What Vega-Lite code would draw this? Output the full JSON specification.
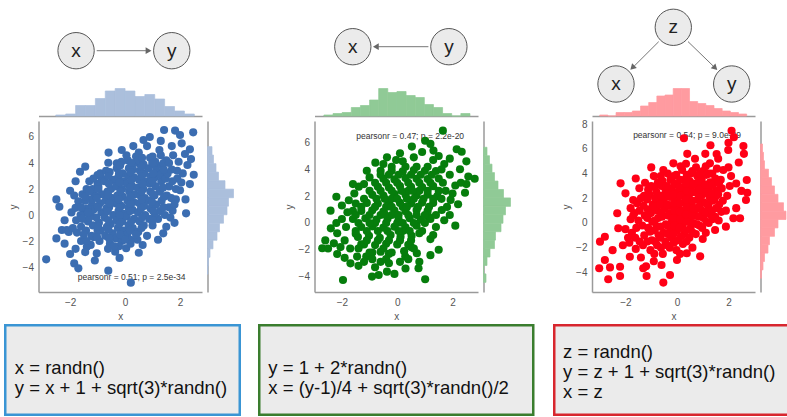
{
"$schema": "https://vega.github.io/schema/vega-lite/v6.json",
"width": 787,
"height": 417,
"autosize": {"type": "none"},
"padding": 0,
"background": "white",
"config": {
  "view": {"stroke": null},
  "font": "Liberation Sans",
  "axis": {"grid": false, "ticks": false, "tickSize": 0, "labelColor": "#555", "labelFontSize": 10, "labelFont": "Liberation Sans", "titleColor": "#555", "titleFontSize": 10, "titleFont": "Liberation Sans", "titleFontWeight": "normal", "domainColor": "#9a9a9a", "domainWidth": 1.5, "labelPadding": 5, "titlePadding": 4}
},
"resolve": {"scale": {"x": "independent", "y": "independent"}, "axis": {"x": "independent", "y": "independent"}},
"datasets": {
"p1": [
{"x":-2.87,"y":-3.41},{"x":-1.85,"y":-3.72},{"x":-1.7,"y":-4.1},{"x":-0.61,"y":-4.28},{"x":0.21,"y":-5.2},{"x":-2.39,"y":0.64},{"x":-2.0,"y":1.87},{"x":-2.3,"y":-1.15},{"x":-1.64,"y":3.33},{"x":-1.45,"y":3.72},{"x":-0.12,"y":5.0},{"x":0.67,"y":5.77},{"x":1.42,"y":6.54},{"x":1.82,"y":6.49},{"x":2.48,"y":6.36},{"x":2.0,"y":6.15},{"x":2.06,"y":5.51},{"x":2.36,"y":5.05},{"x":2.18,"y":4.69},{"x":2.27,"y":3.85},{"x":2.36,"y":2.38},{"x":2.22,"y":0.13},{"x":1.73,"y":0.33},{"x":1.39,"y":-1.41},{"x":0.64,"y":-2.31},{"x":0.04,"y":-2.56},{"x":-0.36,"y":-2.82},{"x":-1.03,"y":-2.95},{"x":-1.39,"y":-2.44},{"x":-2.12,"y":-1.15},{"x":-1.0,"y":3.08},{"x":-0.61,"y":4.02},{"x":-0.3,"y":3.98},
{"x":-2.05,"y":-1.3},{"x":-1.9,"y":-1.0},{"x":-1.75,"y":-1.35},{"x":-1.6,"y":-0.9},{"x":-1.95,"y":0.2},{"x":-1.8,"y":0.55},{"x":-1.7,"y":1.05},{"x":-1.55,"y":1.6},{"x":-1.85,"y":1.5},{"x":-1.4,"y":2.0},{"x":-1.5,"y":0.2},{"x":-1.35,"y":-0.5},{"x":-1.6,"y":-2.0},{"x":-1.8,"y":-2.6},{"x":-1.45,"y":-2.85},{"x":-1.25,"y":-2.3},{"x":-1.15,"y":-1.7},{"x":-1.0,"y":-1.2},{"x":-1.2,"y":0.8},{"x":-1.1,"y":1.5},{"x":-1.0,"y":2.4},{"x":-0.85,"y":2.8},{"x":-1.3,"y":2.6},
{"x":1.0,"y":4.5},{"x":1.25,"y":5.0},{"x":0.8,"y":5.3},{"x":1.5,"y":4.2},{"x":1.7,"y":3.5},{"x":1.9,"y":2.8},{"x":2.0,"y":1.9},{"x":1.85,"y":1.2},{"x":1.6,"y":0.6},{"x":1.2,"y":-0.3},{"x":1.0,"y":-0.8},{"x":0.8,"y":-1.6},{"x":0.45,"y":-1.9},{"x":0.2,"y":-2.2},{"x":1.5,"y":-0.9},{"x":0.4,"y":4.5},{"x":0.1,"y":4.2},{"x":0.55,"y":3.9},{"x":1.1,"y":3.8},{"x":1.6,"y":2.2},{"x":2.1,"y":3.2},{"x":1.95,"y":4.1},{"x":2.4,"y":4.3},{"x":1.3,"y":5.7},{"x":0.9,"y":6.0},
{"x":-1.22,"y":-1.6},{"x":-1.17,"y":-0.8},{"x":-1.25,"y":0.0},{"x":-1.15,"y":0.4},{"x":-1.21,"y":1.2},{"x":-1.18,"y":2.0},
{"x":-0.93,"y":-2.0},{"x":-0.88,"y":-1.2},{"x":-0.95,"y":-0.6},{"x":-0.86,"y":0.2},{"x":-0.91,"y":0.9},{"x":-0.84,"y":1.6},{"x":-0.97,"y":2.2},{"x":-0.9,"y":3.2},
{"x":-0.72,"y":-1.6},{"x":-0.66,"y":-0.9},{"x":-0.74,"y":-0.2},{"x":-0.68,"y":0.5},{"x":-0.71,"y":1.1},{"x":-0.64,"y":1.8},{"x":-0.75,"y":2.6},{"x":-0.69,"y":3.4},
{"x":-0.55,"y":-2.2},{"x":-0.45,"y":-1.4},{"x":-0.52,"y":-0.7},{"x":-0.43,"y":0.0},{"x":-0.58,"y":0.6},{"x":-0.47,"y":1.3},{"x":-0.51,"y":2.0},{"x":-0.44,"y":2.7},{"x":-0.56,"y":3.3},
{"x":-0.33,"y":-1.8},{"x":-0.26,"y":-1.0},{"x":-0.31,"y":-0.4},{"x":-0.24,"y":0.3},{"x":-0.35,"y":0.9},{"x":-0.28,"y":1.5},{"x":-0.32,"y":2.2},{"x":-0.25,"y":2.9},{"x":-0.3,"y":3.6},
{"x":-0.12,"y":-2.0},{"x":-0.06,"y":-1.2},{"x":-0.1,"y":-0.5},{"x":-0.04,"y":0.1},{"x":-0.14,"y":0.7},{"x":-0.08,"y":1.4},{"x":-0.11,"y":2.0},{"x":-0.05,"y":2.6},{"x":-0.09,"y":3.2},{"x":-0.13,"y":4.1},
{"x":0.08,"y":-1.5},{"x":0.13,"y":-0.8},{"x":0.06,"y":-0.1},{"x":0.12,"y":0.6},{"x":0.09,"y":1.1},{"x":0.15,"y":1.8},{"x":0.07,"y":2.4},{"x":0.11,"y":3.0},{"x":0.14,"y":3.6},{"x":0.05,"y":4.6},
{"x":0.28,"y":-1.0},{"x":0.33,"y":-0.3},{"x":0.27,"y":0.4},{"x":0.31,"y":1.0},{"x":0.35,"y":1.6},{"x":0.26,"y":2.2},{"x":0.32,"y":2.9},{"x":0.29,"y":3.5},{"x":0.34,"y":4.0},
{"x":0.48,"y":-1.3},{"x":0.53,"y":-0.5},{"x":0.47,"y":0.2},{"x":0.52,"y":0.9},{"x":0.55,"y":1.5},{"x":0.46,"y":2.1},{"x":0.51,"y":2.7},{"x":0.54,"y":3.4},{"x":0.49,"y":4.2},{"x":0.5,"y":4.8},
{"x":0.68,"y":-0.8},{"x":0.73,"y":0.0},{"x":0.69,"y":0.7},{"x":0.72,"y":1.3},{"x":0.66,"y":2.0},{"x":0.74,"y":2.6},{"x":0.7,"y":3.2},{"x":0.67,"y":3.9},
{"x":0.88,"y":-0.3},{"x":0.93,"y":0.5},{"x":0.87,"y":1.1},{"x":0.92,"y":1.8},{"x":0.89,"y":2.4},{"x":0.94,"y":3.0},{"x":0.86,"y":3.6},{"x":0.91,"y":4.4},
{"x":1.08,"y":0.1},{"x":1.13,"y":0.8},{"x":1.07,"y":1.5},{"x":1.12,"y":2.2},{"x":1.09,"y":2.9},{"x":1.14,"y":3.4},{"x":1.1,"y":4.1},
{"x":1.28,"y":0.3},{"x":1.33,"y":1.1},{"x":1.27,"y":1.8},{"x":1.32,"y":2.6},{"x":1.29,"y":3.1},{"x":1.34,"y":3.8},{"x":1.3,"y":4.6},
{"x":-1.42,"y":-1.2},{"x":-1.38,"y":0.5},{"x":-1.45,"y":1.1},{"x":1.52,"y":1.5},{"x":1.48,"y":2.8},{"x":1.55,"y":3.2},{"x":1.45,"y":0.0},{"x":1.68,"y":1.3},{"x":1.72,"y":2.6},{"x":1.75,"y":4.6},{"x":-1.62,"y":0.0},{"x":-1.78,"y":-0.4},{"x":-2.2,"y":-0.4},
{"x":-1.02,"y":-1.7},{"x":-0.98,"y":-0.9},{"x":-1.04,"y":-0.2},{"x":-0.99,"y":0.6},{"x":-1.03,"y":1.3},{"x":-0.97,"y":2.0},
{"x":-0.62,"y":-2.6},{"x":-0.58,"y":-1.8},{"x":-0.61,"y":-1.1},{"x":-0.6,"y":-0.4},{"x":-0.63,"y":0.3},{"x":-0.57,"y":0.9},{"x":-0.62,"y":1.6},{"x":-0.59,"y":2.4},{"x":-0.61,"y":3.0},
{"x":-0.22,"y":-2.4},{"x":-0.18,"y":-1.5},{"x":-0.21,"y":-0.7},{"x":-0.19,"y":0.0},{"x":-0.2,"y":0.6},{"x":-0.23,"y":1.2},{"x":-0.17,"y":1.8},{"x":-0.2,"y":2.5},{"x":-0.22,"y":3.2},{"x":-0.18,"y":3.8},
{"x":0.2,"y":-1.9},{"x":0.18,"y":-1.2},{"x":0.22,"y":-0.5},{"x":0.19,"y":0.3},{"x":0.21,"y":0.9},{"x":0.2,"y":1.4},{"x":0.18,"y":2.1},{"x":0.23,"y":2.7},{"x":0.2,"y":3.3},{"x":0.22,"y":4.0},
{"x":0.6,"y":-1.0},{"x":0.62,"y":-0.2},{"x":0.58,"y":0.5},{"x":0.61,"y":1.2},{"x":0.6,"y":1.8},{"x":0.63,"y":2.4},{"x":0.59,"y":3.0},{"x":0.6,"y":3.7},{"x":0.62,"y":4.4},
{"x":1.0,"y":-0.4},{"x":1.02,"y":0.3},{"x":0.98,"y":1.0},{"x":1.01,"y":1.6},{"x":1.0,"y":2.6},{"x":1.03,"y":3.2},{"x":0.99,"y":4.0},
{"x":1.4,"y":0.6},{"x":1.42,"y":1.4},{"x":1.38,"y":2.1},{"x":1.41,"y":3.5},{"x":1.4,"y":4.0},
{"x":-1.4,"y":-2.0},{"x":-1.5,"y":-1.5},{"x":-1.55,"y":-0.3},{"x":-1.3,"y":-0.2},{"x":-1.35,"y":0.2},{"x":-1.6,"y":0.6},{"x":-1.45,"y":1.4},{"x":-1.3,"y":1.8},{"x":-1.15,"y":2.8},
{"x":1.65,"y":-0.2},{"x":1.8,"y":0.8},{"x":1.85,"y":2.0},{"x":1.9,"y":3.4},{"x":2.05,"y":2.5},{"x":1.6,"y":4.0},{"x":0.4,"y":-1.5},{"x":0.0,"y":-1.9},{"x":-0.4,"y":-2.4},
{"x":-2.5,"y":-1.8},{"x":-2.2,"y":-2.2},{"x":-2.0,"y":-3.0},{"x":-1.1,"y":-3.5},{"x":-0.2,"y":-3.3},{"x":0.5,"y":-2.9},{"x":1.2,"y":-1.9},{"x":1.8,"y":-0.6},{"x":2.2,"y":1.2},{"x":2.5,"y":3.1},{"x":-2.5,"y":1.2},{"x":-1.8,"y":2.6},{"x":-0.6,"y":4.8},{"x":0.3,"y":5.3},{"x":1.7,"y":5.3}
],
"p2": [
{"x":1.65,"y":6.89},{"x":1.01,"y":6.14},{"x":0.53,"y":5.7},{"x":2.15,"y":5.5},{"x":2.33,"y":5.32},{"x":1.31,"y":5.4},{"x":-0.37,"y":4.9},{"x":-0.04,"y":4.7},{"x":-0.79,"y":4.5},{"x":2.27,"y":4.01},{"x":2.57,"y":3.46},{"x":2.45,"y":2.26},{"x":1.93,"y":1.72},{"x":1.61,"y":0.97},{"x":1.13,"y":0.47},{"x":0.8,"y":-0.77},{"x":0.71,"y":-2.26},{"x":0.77,"y":-3.38},{"x":1.01,"y":-4.2},{"x":0.29,"y":-2.51},{"x":-0.37,"y":-3.63},{"x":-0.67,"y":-3.88},{"x":-0.91,"y":-4.0},{"x":-1.96,"y":-4.25},{"x":-1.69,"y":-3.01},{"x":-2.17,"y":-2.31},{"x":-2.71,"y":-1.89},{"x":-2.41,"y":0.92},{"x":-2.2,"y":1.96},{"x":-1.39,"y":2.71},{"x":-2.17,"y":-0.77},{"x":-2.29,"y":-1.52},{"x":-1.12,"y":-2.51},{"x":-1.45,"y":-2.51},
{"x":-2.0,"y":0.3},{"x":-1.85,"y":-0.3},{"x":-1.9,"y":-1.3},{"x":-2.05,"y":-1.8},{"x":-1.7,"y":-1.9},{"x":-1.6,"y":0.9},{"x":-1.75,"y":1.7},{"x":-1.55,"y":2.2},{"x":-1.2,"y":2.9},{"x":-1.0,"y":3.4},{"x":-0.6,"y":3.9},{"x":-0.2,"y":4.2},{"x":0.2,"y":4.6},{"x":0.6,"y":4.9},{"x":1.3,"y":4.7},{"x":1.7,"y":4.4},{"x":1.9,"y":3.6},{"x":2.1,"y":2.8},{"x":1.75,"y":2.4},{"x":2.2,"y":1.4},{"x":1.9,"y":0.6},{"x":1.4,"y":-0.3},{"x":1.2,"y":-1.2},{"x":0.5,"y":-1.8},{"x":0.1,"y":-2.9},{"x":-0.3,"y":-2.3},{"x":-0.6,"y":-2.9},{"x":-0.9,"y":-2.2},{"x":-1.3,"y":-1.6},{"x":-1.5,"y":-0.8},{"x":-2.5,"y":-1.9},{"x":1.5,"y":-2.0},{"x":-0.1,"y":-3.8},{"x":2.5,"y":2.9},
{"x":-1.42,"y":-1.05},{"x":-1.02,"y":-0.95},{"x":-0.63,"y":-1.1},{"x":-0.24,"y":-0.9},{"x":0.12,"y":-1.02},{"x":0.52,"y":-0.96},
{"x":-1.3,"y":-0.3},{"x":-0.9,"y":-0.25},{"x":-0.5,"y":-0.35},{"x":-0.1,"y":-0.28},{"x":0.3,"y":-0.32},{"x":0.7,"y":-0.2},
{"x":-1.6,"y":0.3},{"x":-1.15,"y":0.35},{"x":-0.75,"y":0.25},{"x":-0.35,"y":0.32},{"x":0.05,"y":0.28},{"x":0.45,"y":0.36},{"x":0.85,"y":0.25},{"x":1.2,"y":0.3},
{"x":-1.3,"y":0.9},{"x":-0.9,"y":0.95},{"x":-0.5,"y":0.85},{"x":-0.1,"y":0.92},{"x":0.3,"y":0.88},{"x":0.7,"y":0.96},{"x":1.1,"y":0.9},
{"x":-1.1,"y":1.5},{"x":-0.7,"y":1.45},{"x":-0.3,"y":1.55},{"x":0.1,"y":1.5},{"x":0.5,"y":1.45},{"x":0.9,"y":1.52},{"x":1.3,"y":1.5},{"x":-1.5,"y":1.45},
{"x":-0.9,"y":2.1},{"x":-0.5,"y":2.05},{"x":-0.1,"y":2.15},{"x":0.3,"y":2.1},{"x":0.7,"y":2.05},{"x":1.1,"y":2.12},{"x":1.45,"y":2.0},
{"x":-0.7,"y":2.7},{"x":-0.3,"y":2.65},{"x":0.1,"y":2.75},{"x":0.5,"y":2.7},{"x":0.9,"y":2.68},{"x":1.3,"y":2.75},
{"x":-0.5,"y":3.3},{"x":-0.1,"y":3.25},{"x":0.3,"y":3.35},{"x":0.7,"y":3.3},{"x":1.1,"y":3.28},{"x":1.5,"y":3.32},
{"x":-0.2,"y":3.9},{"x":0.2,"y":3.85},{"x":0.6,"y":3.95},{"x":1.0,"y":3.9},{"x":1.4,"y":3.88},
{"x":-1.2,"y":-1.6},{"x":-0.8,"y":-1.65},{"x":-0.4,"y":-1.55},{"x":0.0,"y":-1.6},{"x":0.4,"y":-1.62},
{"x":-1.0,"y":-2.2},{"x":-0.6,"y":-2.15},{"x":-0.2,"y":-2.2},{"x":0.25,"y":-2.1},
{"x":-0.2,"y":0.6},{"x":0.2,"y":1.2},{"x":0.6,"y":1.8},{"x":-0.6,"y":0.6},{"x":0.0,"y":0.0},{"x":0.4,"y":0.6},{"x":-0.4,"y":1.2},{"x":0.8,"y":2.4},{"x":0.4,"y":2.4},{"x":-0.2,"y":1.8},{"x":0.2,"y":-0.6},{"x":-0.8,"y":0.0},
{"x":-1.1,"y":-1.3},{"x":-0.7,"y":-1.3},{"x":-0.3,"y":-1.3},{"x":0.1,"y":-1.3},{"x":0.5,"y":-1.3},
{"x":-1.5,"y":-0.6},{"x":-1.1,"y":-0.6},{"x":-0.7,"y":-0.6},{"x":-0.35,"y":-0.6},{"x":0.05,"y":-0.6},{"x":0.45,"y":-0.6},{"x":0.9,"y":-0.6},
{"x":-1.4,"y":0.0},{"x":-1.0,"y":0.0},{"x":-0.4,"y":0.0},{"x":0.2,"y":0.0},{"x":0.6,"y":0.0},{"x":1.0,"y":0.0},
{"x":-1.5,"y":0.6},{"x":-1.0,"y":0.6},{"x":-0.45,"y":0.65},{"x":0.05,"y":0.6},{"x":0.7,"y":0.6},{"x":1.0,"y":0.6},{"x":1.4,"y":0.6},
{"x":-1.3,"y":1.2},{"x":-0.8,"y":1.2},{"x":-0.2,"y":1.2},{"x":0.35,"y":1.2},{"x":0.75,"y":1.2},{"x":1.15,"y":1.2},
{"x":-1.2,"y":1.8},{"x":-0.75,"y":1.8},{"x":-0.45,"y":1.8},{"x":0.0,"y":1.8},{"x":0.35,"y":1.8},{"x":0.95,"y":1.8},{"x":1.3,"y":1.8},{"x":1.6,"y":1.8},
{"x":-1.0,"y":2.4},{"x":-0.6,"y":2.4},{"x":-0.2,"y":2.4},{"x":0.15,"y":2.4},{"x":0.55,"y":2.4},{"x":1.1,"y":2.4},{"x":1.5,"y":2.4},
{"x":-0.8,"y":3.0},{"x":-0.4,"y":3.0},{"x":0.0,"y":3.0},{"x":0.4,"y":3.0},{"x":0.8,"y":3.0},{"x":1.2,"y":3.0},{"x":1.65,"y":3.0},
{"x":-0.6,"y":3.6},{"x":-0.3,"y":3.6},{"x":0.05,"y":3.6},{"x":0.5,"y":3.6},{"x":0.85,"y":3.6},{"x":1.25,"y":3.6},
{"x":0.3,"y":4.2},{"x":0.7,"y":4.2},{"x":1.1,"y":4.2},
{"x":-1.4,"y":-1.9},{"x":-0.5,"y":-1.9},{"x":0.6,"y":-1.9},
{"x":-0.9,"y":-2.7},{"x":-0.4,"y":-2.7},{"x":0.4,"y":-2.7},
{"x":1.6,"y":4.0},{"x":1.9,"y":4.8},{"x":2.3,"y":3.0},{"x":2.0,"y":2.2},{"x":1.8,"y":1.2},{"x":2.5,"y":4.6},{"x":1.5,"y":5.0},{"x":0.9,"y":5.3},{"x":1.2,"y":5.9},{"x":-1.8,"y":0.8},{"x":-2.2,"y":0.0},{"x":-2.6,"y":-1.3},{"x":-1.9,"y":-2.6},{"x":-1.4,"y":-3.2},{"x":-0.8,"y":-3.3},{"x":-0.3,"y":-3.0},{"x":0.3,"y":-3.4},{"x":1.3,"y":-0.9},{"x":1.7,"y":0.2},{"x":-1.1,"y":3.9},{"x":-1.6,"y":2.9},{"x":-2.0,"y":1.3},{"x":0.8,"y":-2.9},{"x":1.2,"y":-2.4},{"x":-2.4,"y":-0.4},{"x":2.8,"y":3.3},{"x":2.1,"y":-0.2},{"x":-0.5,"y":4.4},{"x":0.1,"y":5.2},{"x":-1.2,"y":-2.9}
],
"p3": [
{"x":2.12,"y":7.47},{"x":2.21,"y":6.94},{"x":2.58,"y":6.23},{"x":0.27,"y":6.86},{"x":1.99,"y":5.91},{"x":1.54,"y":5.59},{"x":2.71,"y":3.48},{"x":2.73,"y":2.45},{"x":2.68,"y":1.86},{"x":2.19,"y":0.38},{"x":2.45,"y":0.38},{"x":1.48,"y":-0.57},{"x":0.38,"y":-2.45},{"x":-0.27,"y":-4.21},{"x":-0.53,"y":-4.83},{"x":-1.18,"y":-4.29},{"x":-2.21,"y":-4.29},{"x":-2.67,"y":-4.56},{"x":-3.02,"y":-3.67},{"x":-2.8,"y":-3.0},{"x":-2.99,"y":-1.51},{"x":-2.8,"y":-1.11},{"x":-2.28,"y":-0.43},{"x":-2.32,"y":0.79},{"x":-2.19,"y":3.21},{"x":-1.7,"y":1.86},{"x":-1.46,"y":2.81},{"x":-1.24,"y":3.26},{"x":-2.21,"y":-3.54},{"x":-1.31,"y":-3.67},{"x":-1.83,"y":-2.73},{"x":-0.14,"y":4.83},{"x":-0.53,"y":4.29},{"x":1.8,"y":4.29},{"x":1.28,"y":4.83},
{"x":-2.5,"y":-2.2},{"x":-2.1,"y":-1.8},{"x":-1.9,"y":-1.2},{"x":-2.0,"y":-0.5},{"x":-1.8,"y":0.3},{"x":-1.6,"y":-2.1},{"x":-1.4,"y":-2.8},{"x":-0.9,"y":-3.1},{"x":-0.6,"y":-3.4},{"x":0.0,"y":-3.0},{"x":0.6,"y":-2.0},{"x":1.0,"y":-1.3},{"x":1.9,"y":-0.3},{"x":2.3,"y":1.2},{"x":2.5,"y":2.6},{"x":2.3,"y":3.2},{"x":2.0,"y":4.5},{"x":2.4,"y":4.9},{"x":1.6,"y":5.2},{"x":1.1,"y":5.6},{"x":0.7,"y":5.2},{"x":0.4,"y":5.6},{"x":-0.9,"y":3.8},{"x":-1.0,"y":4.5},{"x":-1.6,"y":3.6},{"x":-2.0,"y":2.4},{"x":-1.8,"y":1.2},{"x":2.6,"y":5.6},{"x":2.0,"y":6.5},{"x":1.3,"y":6.3},{"x":0.9,"y":3.0},{"x":-2.6,"y":-3.6},{"x":-1.2,"y":-3.5},{"x":0.9,"y":-2.7},
{"x":-1.32,"y":-1.8},{"x":-1.27,"y":-1.0},{"x":-1.35,"y":-0.2},{"x":-1.25,"y":0.6},{"x":-1.3,"y":1.4},{"x":-1.28,"y":2.2},
{"x":-1.03,"y":-2.2},{"x":-0.98,"y":-1.4},{"x":-1.05,"y":-0.7},{"x":-0.96,"y":0.1},{"x":-1.01,"y":0.8},{"x":-0.94,"y":1.5},{"x":-1.07,"y":2.3},{"x":-1.0,"y":3.0},
{"x":-0.77,"y":-1.8},{"x":-0.71,"y":-1.0},{"x":-0.79,"y":-0.3},{"x":-0.73,"y":0.4},{"x":-0.76,"y":1.0},{"x":-0.69,"y":1.7},{"x":-0.8,"y":2.5},{"x":-0.74,"y":3.3},
{"x":-0.55,"y":-2.5},{"x":-0.45,"y":-1.5},{"x":-0.52,"y":-0.8},{"x":-0.43,"y":-0.1},{"x":-0.58,"y":0.5},{"x":-0.47,"y":1.2},{"x":-0.51,"y":1.9},{"x":-0.44,"y":2.6},{"x":-0.56,"y":3.4},
{"x":-0.28,"y":-2.0},{"x":-0.21,"y":-1.2},{"x":-0.26,"y":-0.5},{"x":-0.19,"y":0.2},{"x":-0.3,"y":0.8},{"x":-0.23,"y":1.4},{"x":-0.27,"y":2.1},{"x":-0.2,"y":2.8},{"x":-0.25,"y":3.5},
{"x":-0.02,"y":-2.2},{"x":0.04,"y":-1.4},{"x":0.0,"y":-0.6},{"x":0.06,"y":0.0},{"x":-0.04,"y":0.6},{"x":0.02,"y":1.3},{"x":-0.01,"y":1.9},{"x":0.05,"y":2.5},{"x":0.01,"y":3.1},{"x":-0.03,"y":3.9},
{"x":0.23,"y":-1.7},{"x":0.28,"y":-0.9},{"x":0.21,"y":-0.2},{"x":0.27,"y":0.5},{"x":0.24,"y":1.0},{"x":0.3,"y":1.7},{"x":0.22,"y":2.3},{"x":0.26,"y":2.9},{"x":0.29,"y":3.5},{"x":0.2,"y":4.3},
{"x":0.48,"y":-1.2},{"x":0.53,"y":-0.4},{"x":0.47,"y":0.3},{"x":0.51,"y":0.9},{"x":0.55,"y":1.5},{"x":0.46,"y":2.1},{"x":0.52,"y":2.8},{"x":0.49,"y":3.4},{"x":0.54,"y":4.0},
{"x":0.73,"y":-0.9},{"x":0.78,"y":-0.1},{"x":0.72,"y":0.6},{"x":0.77,"y":1.2},{"x":0.8,"y":1.9},{"x":0.71,"y":2.5},{"x":0.76,"y":3.1},{"x":0.79,"y":3.8},{"x":0.74,"y":4.5},
{"x":0.98,"y":-0.4},{"x":1.03,"y":0.4},{"x":0.97,"y":1.0},{"x":1.02,"y":1.7},{"x":0.99,"y":2.3},{"x":1.04,"y":2.9},{"x":0.96,"y":3.5},{"x":1.01,"y":4.2},
{"x":1.23,"y":0.0},{"x":1.28,"y":0.7},{"x":1.22,"y":1.4},{"x":1.27,"y":2.1},{"x":1.24,"y":2.8},{"x":1.29,"y":3.3},{"x":1.25,"y":4.0},
{"x":1.48,"y":0.5},{"x":1.53,"y":1.2},{"x":1.47,"y":2.0},{"x":1.52,"y":2.6},{"x":1.49,"y":3.6},{"x":1.55,"y":4.4},
{"x":1.72,"y":0.9},{"x":1.78,"y":1.8},{"x":1.74,"y":2.8},{"x":1.7,"y":3.5},
{"x":-1.62,"y":-1.2},{"x":-1.58,"y":-0.4},{"x":-1.65,"y":0.8},{"x":-1.55,"y":1.6},
{"x":-1.15,"y":-1.5},{"x":-1.12,"y":-0.4},{"x":-1.15,"y":0.4},{"x":-1.13,"y":1.1},{"x":-1.16,"y":1.9},{"x":-1.12,"y":2.7},
{"x":-0.88,"y":-2.5},{"x":-0.85,"y":-1.5},{"x":-0.87,"y":-0.6},{"x":-0.86,"y":0.2},{"x":-0.88,"y":1.3},{"x":-0.85,"y":2.0},{"x":-0.87,"y":2.9},
{"x":-0.62,"y":-2.0},{"x":-0.64,"y":-1.2},{"x":-0.63,"y":-0.3},{"x":-0.61,"y":0.8},{"x":-0.65,"y":1.5},{"x":-0.62,"y":2.2},{"x":-0.6,"y":3.0},{"x":-0.63,"y":3.8},
{"x":-0.38,"y":-1.8},{"x":-0.36,"y":-0.9},{"x":-0.38,"y":-0.2},{"x":-0.35,"y":0.6},{"x":-0.37,"y":1.5},{"x":-0.36,"y":2.3},{"x":-0.39,"y":3.0},{"x":-0.36,"y":4.0},
{"x":-0.12,"y":-1.6},{"x":-0.14,"y":-0.9},{"x":-0.1,"y":-0.2},{"x":-0.13,"y":0.4},{"x":-0.11,"y":1.0},{"x":-0.12,"y":1.6},{"x":-0.14,"y":2.3},{"x":-0.1,"y":3.2},{"x":-0.12,"y":3.8},
{"x":0.12,"y":-2.5},{"x":0.14,"y":-1.1},{"x":0.1,"y":-0.4},{"x":0.13,"y":0.3},{"x":0.11,"y":0.9},{"x":0.12,"y":1.6},{"x":0.14,"y":2.2},{"x":0.1,"y":2.9},{"x":0.12,"y":3.5},{"x":0.14,"y":4.6},
{"x":0.37,"y":-1.5},{"x":0.36,"y":-0.6},{"x":0.38,"y":0.1},{"x":0.35,"y":0.7},{"x":0.37,"y":1.3},{"x":0.36,"y":1.9},{"x":0.39,"y":2.6},{"x":0.36,"y":3.2},{"x":0.38,"y":3.9},{"x":0.35,"y":4.8},
{"x":0.62,"y":-0.8},{"x":0.64,"y":0.0},{"x":0.6,"y":0.6},{"x":0.63,"y":1.2},{"x":0.61,"y":1.8},{"x":0.62,"y":2.5},{"x":0.65,"y":3.2},{"x":0.6,"y":4.2},
{"x":0.87,"y":-0.2},{"x":0.85,"y":0.5},{"x":0.88,"y":1.4},{"x":0.86,"y":2.1},{"x":0.87,"y":2.7},{"x":0.85,"y":3.4},{"x":0.88,"y":4.0},
{"x":1.12,"y":-0.8},{"x":1.14,"y":0.1},{"x":1.1,"y":0.9},{"x":1.12,"y":1.6},{"x":1.13,"y":2.5},{"x":1.11,"y":3.1},{"x":1.14,"y":3.9},{"x":1.12,"y":4.6},
{"x":1.37,"y":0.3},{"x":1.36,"y":1.0},{"x":1.38,"y":1.8},{"x":1.36,"y":2.4},{"x":1.38,"y":3.1},{"x":1.37,"y":4.0},
{"x":1.62,"y":0.2},{"x":1.64,"y":1.5},{"x":1.6,"y":2.3},{"x":1.63,"y":3.2},{"x":1.9,"y":1.0},{"x":1.95,"y":2.2},{"x":2.05,"y":3.0},{"x":2.1,"y":3.8},{"x":-1.45,"y":-1.5},{"x":-1.5,"y":0.2},{"x":-1.45,"y":1.0},{"x":-1.4,"y":2.0},{"x":-1.75,"y":-0.8},{"x":-1.85,"y":-1.6},{"x":-1.7,"y":0.6}
],
"h1": [{"x0":-2.52,"x1":-2.16,"n":2},{"x0":-2.16,"x1":-1.8,"n":4},{"x0":-1.8,"x1":-1.44,"n":21},{"x0":-1.44,"x1":-1.08,"n":21},{"x0":-1.08,"x1":-0.72,"n":35},{"x0":-0.72,"x1":-0.36,"n":50},{"x0":-0.36,"x1":0,"n":55},{"x0":0,"x1":0.36,"n":50},{"x0":0.36,"x1":0.72,"n":39},{"x0":0.72,"x1":1.08,"n":43},{"x0":1.08,"x1":1.44,"n":34},{"x0":1.44,"x1":1.8,"n":19},{"x0":1.8,"x1":2.16,"n":10},{"x0":2.16,"x1":2.52,"n":4}],
"h2": [{"x0":-2.65,"x1":-2.32,"n":2},{"x0":-2.32,"x1":-1.99,"n":5},{"x0":-1.99,"x1":-1.66,"n":7},{"x0":-1.66,"x1":-1.33,"n":17},{"x0":-1.33,"x1":-1.0,"n":21},{"x0":-1.0,"x1":-0.67,"n":32},{"x0":-0.67,"x1":-0.34,"n":55},{"x0":-0.34,"x1":-0.01,"n":47},{"x0":-0.01,"x1":0.32,"n":49},{"x0":0.32,"x1":0.65,"n":41},{"x0":0.65,"x1":0.98,"n":37},{"x0":0.98,"x1":1.31,"n":23},{"x0":1.31,"x1":1.64,"n":17},{"x0":1.64,"x1":1.97,"n":5},{"x0":1.97,"x1":2.3,"n":0},{"x0":2.3,"x1":2.63,"n":5}],
"h3": [{"x0":-3.0,"x1":-2.683,"n":2},{"x0":-2.683,"x1":-2.366,"n":0},{"x0":-2.366,"x1":-2.049,"n":7},{"x0":-2.049,"x1":-1.732,"n":7},{"x0":-1.732,"x1":-1.415,"n":10},{"x0":-1.415,"x1":-1.098,"n":20},{"x0":-1.098,"x1":-0.781,"n":27},{"x0":-0.781,"x1":-0.464,"n":40},{"x0":-0.464,"x1":-0.147,"n":42},{"x0":-0.147,"x1":0.17,"n":55},{"x0":0.17,"x1":0.487,"n":55},{"x0":0.487,"x1":0.804,"n":29},{"x0":0.804,"x1":1.121,"n":25},{"x0":1.121,"x1":1.438,"n":21},{"x0":1.438,"x1":1.755,"n":15},{"x0":1.755,"x1":2.072,"n":10},{"x0":2.072,"x1":2.389,"n":7},{"x0":2.389,"x1":2.706,"n":4}],
"r1": [{"y0":4.61,"y1":5.26,"n":9},{"y0":3.95,"y1":4.61,"n":12},{"y0":3.3,"y1":3.95,"n":17},{"y0":2.64,"y1":3.3,"n":22},{"y0":1.99,"y1":2.64,"n":35},{"y0":1.33,"y1":1.99,"n":52},{"y0":0.68,"y1":1.33,"n":42},{"y0":0.02,"y1":0.68,"n":39},{"y0":-0.63,"y1":0.02,"n":32},{"y0":-1.29,"y1":-0.63,"n":24},{"y0":-1.94,"y1":-1.29,"n":19},{"y0":-2.6,"y1":-1.94,"n":11},{"y0":-3.25,"y1":-2.6,"n":5},{"y0":-3.91,"y1":-3.25,"n":2},{"y0":-4.56,"y1":-3.91,"n":1}],
"r2": [{"y0":5.02,"y1":5.65,"n":7},{"y0":4.39,"y1":5.02,"n":12},{"y0":3.76,"y1":4.39,"n":17},{"y0":3.13,"y1":3.76,"n":22},{"y0":2.5,"y1":3.13,"n":29},{"y0":1.87,"y1":2.5,"n":40},{"y0":1.24,"y1":1.87,"n":54},{"y0":0.61,"y1":1.24,"n":44},{"y0":-0.02,"y1":0.61,"n":39},{"y0":-0.65,"y1":-0.02,"n":35},{"y0":-1.28,"y1":-0.65,"n":24},{"y0":-1.91,"y1":-1.28,"n":22},{"y0":-2.54,"y1":-1.91,"n":13},{"y0":-3.17,"y1":-2.54,"n":7},{"y0":-3.8,"y1":-3.17,"n":0},{"y0":-4.43,"y1":-3.8,"n":5}],
"r3": [{"y0":5.72,"y1":6.4,"n":4},{"y0":5.04,"y1":5.72,"n":6},{"y0":4.36,"y1":5.04,"n":8},{"y0":3.68,"y1":4.36,"n":16},{"y0":3.0,"y1":3.68,"n":22},{"y0":2.32,"y1":3.0,"n":28},{"y0":1.64,"y1":2.32,"n":35},{"y0":0.96,"y1":1.64,"n":46},{"y0":0.28,"y1":0.96,"n":51},{"y0":-0.4,"y1":0.28,"n":35},{"y0":-1.08,"y1":-0.4,"n":28},{"y0":-1.76,"y1":-1.08,"n":18},{"y0":-2.44,"y1":-1.76,"n":15},{"y0":-3.12,"y1":-2.44,"n":8},{"y0":-3.8,"y1":-3.12,"n":5},{"y0":-4.48,"y1":-3.8,"n":2}],
"d1n": [{"n":"x","x":30.2,"y":95.1},{"n":"y","x":71.0,"y":95.1}],
"d2n": [{"n":"x","x":33.9,"y":86.6},{"n":"y","x":69.1,"y":86.6}],
"d3n": [{"n":"z","x":49.81,"y":45.32},{"n":"x","x":25.94,"y":165.96},{"n":"y","x":74.15,"y":165.96}]
},
"layer": [
{"data": {"name": "h1"}, "mark": {"type": "rect", "color": "#abbfdc", "stroke": "#abbfdc", "strokeWidth": 0.7},
 "encoding": {"x": {"field": "x0", "type": "quantitative", "scale": {"domain": [-3.15, 2.8], "range": [38.5, 202], "nice": false, "zero": false}, "axis": {"orient": "bottom", "offset": -301, "labels": false, "title": null}}, "x2": {"field": "x1"}, "y": {"field": "n", "type": "quantitative", "scale": {"domain": [0, 60], "range": [116, 86], "nice": false}, "axis": null}, "y2": {"datum": 0}}},
{"data": {"name": "h2"}, "mark": {"type": "rect", "color": "#90ca96", "stroke": "#90ca96", "strokeWidth": 0.7},
 "encoding": {"x": {"field": "x0", "type": "quantitative", "scale": {"domain": [-2.99, 2.92], "range": [314.5, 478], "nice": false, "zero": false}, "axis": {"orient": "bottom", "offset": -301, "labels": false, "title": null}}, "x2": {"field": "x1"}, "y": {"field": "n", "type": "quantitative", "scale": {"domain": [0, 60], "range": [116, 86], "nice": false}, "axis": null}, "y2": {"datum": 0}}},
{"data": {"name": "h3"}, "mark": {"type": "rect", "color": "#ff9ba0", "stroke": "#ff9ba0", "strokeWidth": 0.7},
 "encoding": {"x": {"field": "x0", "type": "quantitative", "scale": {"domain": [-3.3, 3.03], "range": [592, 755], "nice": false, "zero": false}, "axis": {"orient": "bottom", "offset": -301, "labels": false, "title": null}}, "x2": {"field": "x1"}, "y": {"field": "n", "type": "quantitative", "scale": {"domain": [0, 60], "range": [116, 86], "nice": false}, "axis": null}, "y2": {"datum": 0}}},

{"data": {"values": [{"x":39.0,"y":95.1,"x2":60.0,"y2":95.1}]}, "mark": {"type":"rule","color":"#777","strokeWidth":1},
 "encoding": {"x": {"field":"x","type":"quantitative","scale":{"domain":[0,100],"range":[5.25,239.75],"nice":false},"axis":null}, "y": {"field":"y","type":"quantitative","scale":{"domain":[0,100],"range":[6,53],"nice":false},"axis":null}, "x2":{"field":"x2"}, "y2":{"field":"y2"}}},
{"data": {"values": [{"x":60.7,"y":95.1,"a":90}]}, "mark": {"type":"point","shape":"triangle","filled":true,"size":45,"color":"#666","opacity":1},
 "encoding": {"x": {"field":"x","type":"quantitative","scale":{"domain":[0,100],"range":[5.25,239.75],"nice":false},"axis":null}, "y": {"field":"y","type":"quantitative","scale":{"domain":[0,100],"range":[6,53],"nice":false},"axis":null}, "angle": {"field":"a","type":"quantitative","scale":null}}},
{"data": {"name": "d1n"}, "mark": {"type":"point","shape":"circle","size":1320,"filled":true,"fill":"#ebebeb","stroke":"#555","strokeWidth":1,"opacity":1},
 "encoding": {"x": {"field":"x","type":"quantitative","scale":{"domain":[0,100],"range":[5.25,239.75],"nice":false},"axis":null}, "y": {"field":"y","type":"quantitative","scale":{"domain":[0,100],"range":[6,53],"nice":false},"axis":null}}},
{"data": {"name": "d1n"}, "mark": {"type":"text","fontSize":19,"color":"#222","baseline":"middle"},
 "encoding": {"x": {"field":"x","type":"quantitative","scale":{"domain":[0,100],"range":[5.25,239.75],"nice":false},"axis":null}, "y": {"field":"y","type":"quantitative","scale":{"domain":[0,100],"range":[6,53],"nice":false},"axis":null}, "text": {"field":"n"}}},

{"data": {"values": [{"x":61.6,"y":86.6,"x2":43.2,"y2":86.6}]}, "mark": {"type":"rule","color":"#777","strokeWidth":1},
 "encoding": {"x": {"field":"x","type":"quantitative","scale":{"domain":[0,100],"range":[260.25,533.25],"nice":false},"axis":null}, "y": {"field":"y","type":"quantitative","scale":{"domain":[0,100],"range":[6,53],"nice":false},"axis":null}, "x2":{"field":"x2"}, "y2":{"field":"y2"}}},
{"data": {"values": [{"x":42.7,"y":86.6,"a":270}]}, "mark": {"type":"point","shape":"triangle","filled":true,"size":45,"color":"#666","opacity":1},
 "encoding": {"x": {"field":"x","type":"quantitative","scale":{"domain":[0,100],"range":[260.25,533.25],"nice":false},"axis":null}, "y": {"field":"y","type":"quantitative","scale":{"domain":[0,100],"range":[6,53],"nice":false},"axis":null}, "angle": {"field":"a","type":"quantitative","scale":null}}},
{"data": {"name": "d2n"}, "mark": {"type":"point","shape":"circle","size":1320,"filled":true,"fill":"#ebebeb","stroke":"#555","strokeWidth":1,"opacity":1},
 "encoding": {"x": {"field":"x","type":"quantitative","scale":{"domain":[0,100],"range":[260.25,533.25],"nice":false},"axis":null}, "y": {"field":"y","type":"quantitative","scale":{"domain":[0,100],"range":[6,53],"nice":false},"axis":null}}},
{"data": {"name": "d2n"}, "mark": {"type":"text","fontSize":19,"color":"#222","baseline":"middle"},
 "encoding": {"x": {"field":"x","type":"quantitative","scale":{"domain":[0,100],"range":[260.25,533.25],"nice":false},"axis":null}, "y": {"field":"y","type":"quantitative","scale":{"domain":[0,100],"range":[6,53],"nice":false},"axis":null}, "text": {"field":"n"}}},

{"data": {"values": [{"x":43.73,"y":75.96,"x2":33.52,"y2":127.87},{"x":55.94,"y":75.74,"x2":66.52,"y2":128.09}]}, "mark": {"type":"rule","color":"#777","strokeWidth":1},
 "encoding": {"x": {"field":"x","type":"quantitative","scale":{"domain":[0,100],"range":[553.75,793.75],"nice":false},"axis":null}, "y": {"field":"y","type":"quantitative","scale":{"domain":[0,100],"range":[6,53],"nice":false},"axis":null}, "x2":{"field":"x2"}, "y2":{"field":"y2"}}},
{"data": {"values": [{"x":33.06,"y":130.0,"a":225.3},{"x":66.98,"y":130.43,"a":134.2}]}, "mark": {"type":"point","shape":"triangle","filled":true,"size":45,"color":"#666","opacity":1},
 "encoding": {"x": {"field":"x","type":"quantitative","scale":{"domain":[0,100],"range":[553.75,793.75],"nice":false},"axis":null}, "y": {"field":"y","type":"quantitative","scale":{"domain":[0,100],"range":[6,53],"nice":false},"axis":null}, "angle": {"field":"a","type":"quantitative","scale":null}}},
{"data": {"name": "d3n"}, "mark": {"type":"point","shape":"circle","size":1320,"filled":true,"fill":"#ebebeb","stroke":"#555","strokeWidth":1,"opacity":1},
 "encoding": {"x": {"field":"x","type":"quantitative","scale":{"domain":[0,100],"range":[553.75,793.75],"nice":false},"axis":null}, "y": {"field":"y","type":"quantitative","scale":{"domain":[0,100],"range":[6,53],"nice":false},"axis":null}}},
{"data": {"name": "d3n"}, "mark": {"type":"text","fontSize":19,"color":"#222","baseline":"middle"},
 "encoding": {"x": {"field":"x","type":"quantitative","scale":{"domain":[0,100],"range":[553.75,793.75],"nice":false},"axis":null}, "y": {"field":"y","type":"quantitative","scale":{"domain":[0,100],"range":[6,53],"nice":false},"axis":null}, "text": {"field":"n"}}},

{"data": {"values": [{"t": "pearsonr = 0.51; p = 2.5e-34", "x": 0.24, "y": -4.77}]}, "mark": {"type": "text", "fontSize": 8.5, "color": "#333"},
 "encoding": {"x": {"field": "x", "type": "quantitative", "scale": {"domain": [-3.15, 2.8], "range": [38.5, 202], "nice": false, "zero": false}, "axis": null}, "y": {"field": "y", "type": "quantitative", "scale": {"domain": [-5.92, 7.23], "range": [292, 121], "nice": false, "zero": false}, "axis": null}, "text": {"field": "t"}}},
{"data": {"name": "p1"}, "mark": {"type": "point", "filled": true, "size": 66, "opacity": 1, "color": "#3b6db1"},
 "encoding": {"x": {"field": "x", "type": "quantitative", "scale": {"domain": [-3.15, 2.8], "range": [38.5, 202], "nice": false, "zero": false}, "axis": {"orient": "bottom", "offset": -125, "values": [-2, 0, 2], "title": "x"}}, "y": {"field": "y", "type": "quantitative", "scale": {"domain": [-5.92, 7.23], "range": [292, 121], "nice": false, "zero": false}, "axis": {"orient": "left", "offset": -38.5, "values": [-4, -2, 0, 2, 4, 6], "title": "y"}}}},
{"data": {"name": "r1"}, "mark": {"type": "rect", "color": "#abbfdc", "stroke": "#abbfdc", "strokeWidth": 0.7},
 "encoding": {"y": {"field": "y0", "type": "quantitative", "scale": {"domain": [-5.92, 7.23], "range": [292, 121], "nice": false, "zero": false}, "axis": {"orient": "left", "offset": -207.5, "labels": false, "title": null}}, "y2": {"field": "y1"}, "x": {"field": "n", "type": "quantitative", "scale": {"domain": [0, 56], "range": [207.5, 235.5], "nice": false}, "axis": null}, "x2": {"datum": 0}}},

{"data": {"values": [{"t": "pearsonr = 0.47; p = 2.2e-20", "x": 0.47, "y": 6.49}]}, "mark": {"type": "text", "fontSize": 8.5, "color": "#333"},
 "encoding": {"x": {"field": "x", "type": "quantitative", "scale": {"domain": [-2.99, 2.92], "range": [314.5, 478], "nice": false, "zero": false}, "axis": null}, "y": {"field": "y", "type": "quantitative", "scale": {"domain": [-5.15, 7.61], "range": [292, 121], "nice": false, "zero": false}, "axis": null}, "text": {"field": "t"}}},
{"data": {"name": "p2"}, "mark": {"type": "point", "filled": true, "size": 66, "opacity": 1, "color": "#067d0c"},
 "encoding": {"x": {"field": "x", "type": "quantitative", "scale": {"domain": [-2.99, 2.92], "range": [314.5, 478], "nice": false, "zero": false}, "axis": {"orient": "bottom", "offset": -125, "values": [-2, 0, 2], "title": "x"}}, "y": {"field": "y", "type": "quantitative", "scale": {"domain": [-5.15, 7.61], "range": [292, 121], "nice": false, "zero": false}, "axis": {"orient": "left", "offset": -314.5, "values": [-4, -2, 0, 2, 4, 6], "title": "y"}}}},
{"data": {"name": "r2"}, "mark": {"type": "rect", "color": "#90ca96", "stroke": "#90ca96", "strokeWidth": 0.7},
 "encoding": {"y": {"field": "y0", "type": "quantitative", "scale": {"domain": [-5.15, 7.61], "range": [292, 121], "nice": false, "zero": false}, "axis": {"orient": "left", "offset": -483.5, "labels": false, "title": null}}, "y2": {"field": "y1"}, "x": {"field": "n", "type": "quantitative", "scale": {"domain": [0, 56], "range": [483.5, 511.5], "nice": false}, "axis": null}, "x2": {"datum": 0}}},

{"data": {"values": [{"t": "pearsonr = 0.54; p = 9.0e-39", "x": 0.39, "y": 7.13}]}, "mark": {"type": "text", "fontSize": 8.5, "color": "#333"},
 "encoding": {"x": {"field": "x", "type": "quantitative", "scale": {"domain": [-3.3, 3.03], "range": [592, 755], "nice": false, "zero": false}, "axis": null}, "y": {"field": "y", "type": "quantitative", "scale": {"domain": [-5.59, 8.26], "range": [292, 121], "nice": false, "zero": false}, "axis": null}, "text": {"field": "t"}}},
{"data": {"name": "p3"}, "mark": {"type": "point", "filled": true, "size": 66, "opacity": 1, "color": "#ff0016"},
 "encoding": {"x": {"field": "x", "type": "quantitative", "scale": {"domain": [-3.3, 3.03], "range": [592, 755], "nice": false, "zero": false}, "axis": {"orient": "bottom", "offset": -125, "values": [-2, 0, 2], "title": "x"}}, "y": {"field": "y", "type": "quantitative", "scale": {"domain": [-5.59, 8.26], "range": [292, 121], "nice": false, "zero": false}, "axis": {"orient": "left", "offset": -592, "values": [-4, -2, 0, 2, 4, 6, 8], "title": "y"}}}},
{"data": {"name": "r3"}, "mark": {"type": "rect", "color": "#ff9ba0", "stroke": "#ff9ba0", "strokeWidth": 0.7},
 "encoding": {"y": {"field": "y0", "type": "quantitative", "scale": {"domain": [-5.59, 8.26], "range": [292, 121], "nice": false, "zero": false}, "axis": {"orient": "left", "offset": -760.5, "labels": false, "title": null}}, "y2": {"field": "y1"}, "x": {"field": "n", "type": "quantitative", "scale": {"domain": [0, 56], "range": [760.5, 788.5], "nice": false}, "axis": null}, "x2": {"datum": 0}}},

{"data": {"values": [{"box": "x → y"}]}, "mark": {"type": "rect", "fill": "#ebebeb", "stroke": "#3a95d4", "strokeWidth": 2.5},
 "encoding": {"x": {"datum": 0, "type": "quantitative", "scale": {"domain": [0, 1], "range": [5.25, 239.75], "nice": false}, "axis": null}, "x2": {"datum": 1}, "y": {"datum": 0, "type": "quantitative", "scale": {"domain": [0, 1], "range": [325.25, 414.75], "nice": false}, "axis": null}, "y2": {"datum": 1}}},
{"data": {"values": [{"line": 1, "t": "x = randn()"}, {"line": 2, "t": "y = x + 1 + sqrt(3)*randn()"}]}, "mark": {"type": "text", "align": "left", "baseline": "middle", "fontSize": 18.5, "color": "#111"},
 "encoding": {"x": {"datum": 0.041, "type": "quantitative", "scale": {"domain": [0, 1], "range": [5.25, 239.75], "nice": false}, "axis": null}, "y": {"field": "line", "type": "quantitative", "scale": {"domain": [-1.15, 3.35], "range": [325, 415], "nice": false, "zero": false}, "axis": null}, "text": {"field": "t"}}},
{"data": {"values": [{"box": "y → x"}]}, "mark": {"type": "rect", "fill": "#ebebeb", "stroke": "#3a7d2e", "strokeWidth": 2.5},
 "encoding": {"x": {"datum": 0, "type": "quantitative", "scale": {"domain": [0, 1], "range": [259.25, 533.25], "nice": false}, "axis": null}, "x2": {"datum": 1}, "y": {"datum": 0, "type": "quantitative", "scale": {"domain": [0, 1], "range": [325.25, 414.75], "nice": false}, "axis": null}, "y2": {"datum": 1}}},
{"data": {"values": [{"line": 1, "t": "y = 1 + 2*randn()"}, {"line": 2, "t": "x = (y-1)/4 + sqrt(3)*randn()/2"}]}, "mark": {"type": "text", "align": "left", "baseline": "middle", "fontSize": 18.5, "color": "#111"},
 "encoding": {"x": {"datum": 0.033, "type": "quantitative", "scale": {"domain": [0, 1], "range": [259.25, 533.25], "nice": false}, "axis": null}, "y": {"field": "line", "type": "quantitative", "scale": {"domain": [-1.15, 3.35], "range": [325, 415], "nice": false, "zero": false}, "axis": null}, "text": {"field": "t"}}},
{"data": {"values": [{"box": "z → x, z → y"}]}, "mark": {"type": "rect", "fill": "#ebebeb", "stroke": "#d8262e", "strokeWidth": 2.5},
 "encoding": {"x": {"datum": 0, "type": "quantitative", "scale": {"domain": [0, 1], "range": [554.25, 792], "nice": false}, "axis": null}, "x2": {"datum": 1}, "y": {"datum": 0, "type": "quantitative", "scale": {"domain": [0, 1], "range": [325.25, 414.75], "nice": false}, "axis": null}, "y2": {"datum": 1}}},
{"data": {"values": [{"line": 1, "t": "z = randn()"}, {"line": 2, "t": "y = z + 1 + sqrt(3)*randn()"}, {"line": 3, "t": "x = z"}]}, "mark": {"type": "text", "align": "left", "baseline": "middle", "fontSize": 18.5, "color": "#111"},
 "encoding": {"x": {"datum": 0.037, "type": "quantitative", "scale": {"domain": [0, 1], "range": [554.25, 792], "nice": false}, "axis": null}, "y": {"field": "line", "type": "quantitative", "scale": {"domain": [-0.35, 4.15], "range": [325, 415], "nice": false, "zero": false}, "axis": null}, "text": {"field": "t"}}}
]
}
